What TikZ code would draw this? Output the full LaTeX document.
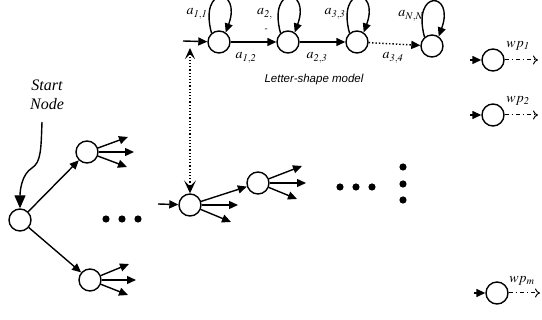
\documentclass[tikz,border=0pt]{standalone}
\usepackage{mathptmx}
\usepackage{fontspec}
\setmainfont{Liberation Serif}
\newfontfamily\arialfont{Liberation Sans}
\usetikzlibrary{arrows.meta}
\tikzset{
  state/.style={circle, draw, line width=1.4pt, minimum size=22pt, inner sep=0pt},
  arr/.style={-{Triangle[length=9pt,width=8pt]}, line width=1.4pt},
  lbl/.style={font=\fontsize{14}{14}\selectfont, inner sep=0pt},
  wparr/.style={-{To[length=5pt,width=9pt]}, dash pattern=on 4pt off 3pt on 1.2pt off 3pt, line width=1pt},
}
\begin{document}
\begin{tikzpicture}[x=1pt,y=1pt]
    \useasboundingbox (0,0) rectangle (542,-320);
    % letter-shape model
    \node[state] (s1) at (219,-42) {};
    \node[state] (s2) at (288,-42) {};
    \node[state] (s3) at (357,-42) {};
    \node[state] (sN) at (432,-46) {};
    \coordinate (s1in) at (183,-41);

    \draw[arr] (s1in) -- (s1);
    \draw[arr] (s1) -- (s2);
    \draw[arr] (s2) -- (s3);
    \draw[arr, dotted] (s3) -- (sN);
    \draw[arr] (s1.130) .. controls +(105:50) and +(70:48) .. (s1.55);
    \draw[arr] (s2.130) .. controls +(105:50) and +(70:48) .. (s2.55);
    \draw[arr] (s3.130) .. controls +(105:50) and +(70:48) .. (s3.55);
    \draw[arr] (sN.130) .. controls +(105:50) and +(70:48) .. (sN.55);

    \node[lbl] (l11) at (197,-14) {$a_{\mathit{1,1}}$};
    \node[lbl] (l22) at (265,-14) {$a_{\mathit{2,}}$};
    \node[font=\small] (l22b) at (266,-30) {-};
    \node[lbl] (l33) at (335,-14) {$a_{\mathit{3,3}}$};
    \node[lbl] (lNN) at (411,-16) {$a_{N,N}$};
    \node[lbl] (l12) at (246,-58) {$a_{\mathit{1,2}}$};
    \node[lbl] (l23) at (317,-58) {$a_{\mathit{2,3}}$};
    \node[lbl] (l34) at (393,-58) {$a_{\mathit{3,4}}$};
    \node[font=\arialfont\itshape\fontsize{11.5}{11.5}\selectfont] (lsm) at (314,-80) {Letter-shape model};

    % search tree
    \node[state] (n0) at (20,-220) {};
    \node[state] (c1) at (87,-152) {};
    \node[state] (c2) at (90,-280) {};
    \node[state] (m1) at (190,-205) {};
    \node[state] (m2) at (258,-183) {};

    \node[font=\itshape\fontsize{16}{19}\selectfont, align=center] (start) at (47,-95) {Start\\Node};
    \coordinate (st0) at (42,-122);
    \draw[line width=1.4pt, -{Triangle[length=13pt,width=11pt]}] (st0) .. controls (41,-150) and (41,-162) .. (32,-168) .. controls (22,-174) and (20,-190) .. (n0);

    \draw[arr] (n0) -- (c1);
    \draw[arr] (n0) -- (c2);

    \coordinate (c1a) at (128,-137);
    \coordinate (c1b) at (134,-152);
    \coordinate (c1c) at (127,-167);
    \coordinate (c2a) at (129,-264);
    \coordinate (c2b) at (136,-280);
    \coordinate (c2c) at (128,-295);
    \draw[arr] (c1) -- (c1a);
    \draw[arr] (c1) -- (c1b);
    \draw[arr] (c1) -- (c1c);
    \draw[arr] (c2) -- (c2a);
    \draw[arr] (c2) -- (c2b);
    \draw[arr] (c2) -- (c2c);

    \fill (106,-219) circle (3.6) (122,-219) circle (3.6) (138,-219) circle (3.6);

    \coordinate (m1in) at (158,-204);
    \coordinate (m1b) at (238,-205);
    \coordinate (m1c) at (231,-222);
    \draw[arr] (m1in) -- (m1);
    \draw[arr] (m1) -- (m2);
    \draw[arr] (m1) -- (m1b);
    \draw[arr] (m1) -- (m1c);
    \coordinate (m2a) at (302,-166);
    \coordinate (m2b) at (306,-183);
    \coordinate (m2c) at (297,-199);
    \draw[arr] (m2) -- (m2a);
    \draw[arr] (m2) -- (m2b);
    \draw[arr] (m2) -- (m2c);

    \fill (340,-187) circle (3.6) (356,-187) circle (3.6) (372,-187) circle (3.6);
    \fill (403,-167) circle (3.6) (403,-184) circle (3.6) (403,-200) circle (3.6);

    % link to the model
    \coordinate (mtop) at (190,-48);
    \draw[dotted, line width=1.2pt, {Stealth[length=11pt,width=10pt,inset=5pt]}-{Stealth[length=13pt,width=12pt,inset=6pt]}] (mtop) -- (m1);

    % word paths
    \node[state] (w1) at (493,-60) {};
    \node[state] (w2) at (493,-115) {};
    \node[state] (wm) at (497,-293) {};
    \coordinate (w1in) at (470,-60);
    \coordinate (w2in) at (470,-115);
    \coordinate (wmin) at (474,-293);
    \coordinate (w1out) at (538,-60);
    \coordinate (w2out) at (538,-115);
    \coordinate (wmout) at (540,-293);
    \draw[arr] (w1in) -- (w1);
    \draw[arr] (w2in) -- (w2);
    \draw[arr] (wmin) -- (wm);
    \draw[wparr] (w1) -- (w1out);
    \draw[wparr] (w2) -- (w2out);
    \draw[wparr] (wm) -- (wmout);
    \node[lbl] (lw1) at (518,-46) {$wp_{\mathit{1}}$};
    \node[lbl] (lw2) at (518,-101) {$wp_{\mathit{2}}$};
    \node[lbl] (lwm) at (522,-281) {$wp_m$};
\end{tikzpicture}
\end{document}
